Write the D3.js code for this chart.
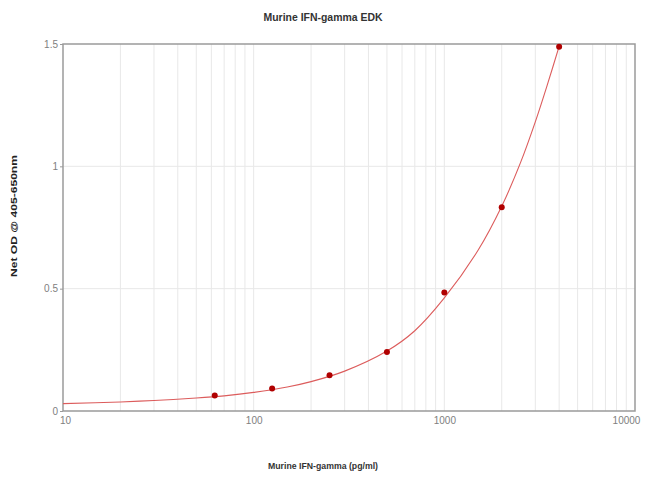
<!DOCTYPE html>
<html>
<head>
<meta charset="utf-8">
<script src="https://cdnjs.cloudflare.com/ajax/libs/d3/7.8.5/d3.min.js"></script>
<style>
  body { margin: 0; background: #fff; }
  text { font-family: "Liberation Sans", Arial, sans-serif; }
</style>
</head>
<body>
<svg id="chart"></svg>
<script>
//data: standards (pg/ml) and net OD
const concentrations = [62.5, 125, 250, 500, 1000, 2000, 4000];
const odValues = [0.063, 0.092, 0.146, 0.241, 0.484, 0.833, 1.489];

//fitted curve
const curveX = [10, 20, 30, 50, 70, 100, 150, 200, 300, 500, 700, 1000, 1500, 2000, 2500, 3000, 3500, 4000];
const curveY = [0.030, 0.037, 0.043, 0.053, 0.062, 0.076, 0.098, 0.120, 0.163, 0.245, 0.328, 0.462, 0.656, 0.837, 1.012, 1.182, 1.343, 1.49];

//ticks
const xTicks = [10, 100, 1000, 10000];
const yTicks = [0, 0.5, 1, 1.5];

//constants
const W = 650, H = 495;
const margin = {top: 44, right: 15, bottom: 84, left: 63};
const width = W - margin.left - margin.right;
const height = H - margin.top - margin.bottom;

const svg = d3.select("#chart")
    .attr("width", W)
    .attr("height", H);

const g = svg.append("g")
    .attr("transform", "translate(" + margin.left + "," + margin.top + ")");

//scales
const xScale = d3.scaleLog()
    .domain([10, 10000])
    .range([0, width]);

const yScale = d3.scaleLinear()
    .domain([0, 1.5])
    .range([height, 0]);

//grid
g.append("g")
    .selectAll("line")
    .data(xScale.ticks().filter(d => d > 10 && d < 10000))
    .enter()
    .append("line")
    .attr("x1", d => xScale(d))
    .attr("x2", d => xScale(d))
    .attr("y1", 0)
    .attr("y2", height)
    .attr("stroke", "#e8e8e8")
    .attr("stroke-width", 1);

g.append("g")
    .selectAll("line")
    .data(yTicks.filter(d => d > 0 && d < 1.5))
    .enter()
    .append("line")
    .attr("x1", 0)
    .attr("x2", width)
    .attr("y1", d => yScale(d))
    .attr("y2", d => yScale(d))
    .attr("stroke", "#e8e8e8")
    .attr("stroke-width", 1);

//frame
g.append("rect")
    .attr("width", width)
    .attr("height", height)
    .attr("fill", "none")
    .attr("stroke", "#9a9a9a")
    .attr("stroke-width", 1.5);

//axes
const yAxis = g.append("g")
    .call(d3.axisLeft(yScale)
        .tickValues(yTicks)
        .tickFormat(d => d)
        .tickSize(3)
        .tickPadding(2));

const xAxis = g.append("g")
    .attr("transform", "translate(0," + height + ")")
    .call(d3.axisBottom(xScale)
        .tickValues(xTicks)
        .tickFormat(d => d)
        .tickSize(0)
        .tickPadding(6));

[xAxis, yAxis].forEach(a => {
    a.select(".domain").remove();
    a.selectAll("line").attr("stroke", "#9a9a9a");
    a.selectAll("text")
        .attr("fill", "#808080")
        .style("font-size", "10px")
        .style("font-family", "'Liberation Sans', Arial, sans-serif");
});

xAxis.selectAll("text")
    .attr("dx", d => d === 10 ? 2 : (d === 10000 ? -9 : 0));

//curve
const line = d3.line()
    .x(d => xScale(d[0]))
    .y(d => yScale(d[1]))
    .curve(d3.curveCatmullRom);

g.append("path")
    .datum(curveX.map((x, i) => [x, curveY[i]]))
    .attr("d", line)
    .attr("fill", "none")
    .attr("stroke", "#dc5c5c")
    .attr("stroke-width", 1.1);

//points
g.append("g")
    .selectAll("circle")
    .data(concentrations.map((x, i) => [x, odValues[i]]))
    .enter()
    .append("circle")
    .attr("cx", d => xScale(d[0]))
    .attr("cy", d => yScale(d[1]))
    .attr("r", 3)
    .attr("fill", "#b00000");

//title
svg.append("text")
    .attr("x", 323)
    .attr("y", 21)
    .attr("text-anchor", "middle")
    .attr("textLength", 119)
    .attr("lengthAdjust", "spacingAndGlyphs")
    .style("font-size", "11.5px")
    .style("font-weight", "bold")
    .attr("fill", "#333")
    .text("Murine IFN-gamma EDK");

//axis labels
svg.append("text")
    .attr("x", 323)
    .attr("y", 468.5)
    .attr("text-anchor", "middle")
    .attr("textLength", 110)
    .attr("lengthAdjust", "spacingAndGlyphs")
    .style("font-size", "9px")
    .style("font-weight", "bold")
    .attr("fill", "#333")
    .text("Murine IFN-gamma (pg/ml)");

svg.append("text")
    .attr("transform", "translate(17,216) rotate(-90)")
    .attr("text-anchor", "middle")
    .attr("textLength", 122)
    .attr("lengthAdjust", "spacingAndGlyphs")
    .style("font-size", "9.5px")
    .style("font-weight", "bold")
    .attr("fill", "#222")
    .text("Net OD @ 405-650nm");
</script>
</body>
</html>
